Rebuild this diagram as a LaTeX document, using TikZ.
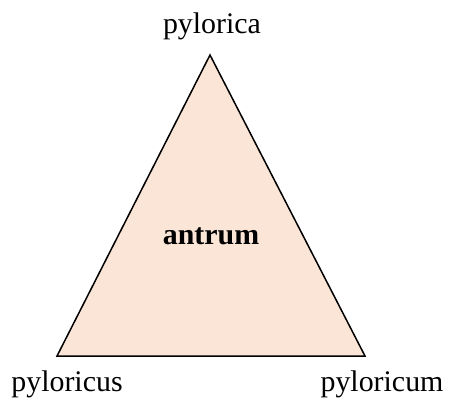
\documentclass[tikz,border=0pt]{standalone}
\usepackage{fontspec}
\setmainfont{Liberation Serif}
\definecolor{peach}{HTML}{FBE5D6}
\tikzset{lbl/.style={anchor=base, inner sep=0pt, font=\fontsize{30}{36}\selectfont}}
\begin{document}
\begin{tikzpicture}[x=1bp,y=1bp]
\useasboundingbox (0,0) rectangle (449,399);
\coordinate (A) at (210,344);
\coordinate (B) at (57,43);
\coordinate (C) at (365,43);
\draw[fill=peach, line width=1.5bp, line join=miter] (A) -- (B) -- (C) -- cycle;
\node[lbl] (top) at (212,366) {pylorica};
\node[lbl] (left) at (67,8) {pyloricus};
\node[lbl] (right) at (382,8) {pyloricum};
\node[lbl, font=\fontsize{30}{36}\selectfont\bfseries] (mid) at (211,155) {antrum};
\end{tikzpicture}
\end{document}
